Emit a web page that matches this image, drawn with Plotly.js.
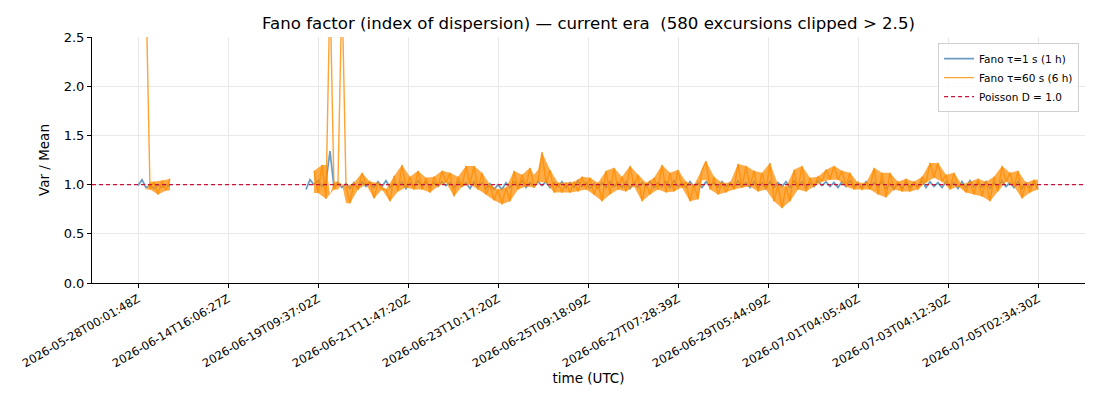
<!DOCTYPE html>
<html>
<head>
<meta charset="utf-8">
<script src="https://cdn.plot.ly/plotly-3.0.1.min.js"></script>
<style>
  html, body { margin: 0; padding: 0; background: #fff; }
  #chart { width: 1100px; height: 400px; }
</style>
</head>
<body>
<div id="chart"></div>
<script>
// sample index of each tick and its timestamp label
var tickSamples = [0, 22.5, 45, 67.5, 90, 112.5, 135, 157.5, 180, 202.5, 225];
var tickLabels = [
  '2026-05-28T00:01:48Z', '2026-06-14T16:06:27Z', '2026-06-19T09:37:02Z',
  '2026-06-21T11:47:20Z', '2026-06-23T10:17:20Z', '2026-06-25T09:18:09Z',
  '2026-06-27T07:28:39Z', '2026-06-29T05:44:09Z', '2026-07-01T04:05:40Z',
  '2026-07-03T04:12:30Z', '2026-07-05T02:34:30Z'
];

var poissonD = 1.0;
var clipMax = 2.5;

// first block of samples starts at index 0, second at 42
var seg1Start = 0;
var seg2Start = 42;

// Fano tau=1 s (1 h)
var fano1Seg1 = [0.99, 1.05, 0.97, 0.99, 0.96, 1.00, 0.97, 1.00, 0.98];
var fano1Seg2 = [
  0.95, 1.05, 1.00, 1.04, 0.98, 1.03, 1.34, 0.97, 1.02, 0.97,
  1.01, 0.96, 1.02, 0.96, 1.03, 0.98, 1.02, 0.97, 1.03, 0.98,
  1.04, 0.97, 1.02, 0.98, 1.03, 0.96, 1.02, 0.97, 1.04, 0.98,
  1.03, 0.97, 1.02, 0.98, 1.03, 0.99, 1.02, 0.97, 1.03, 0.98,
  1.02, 0.96, 1.03, 0.97, 1.02, 0.96, 1.01, 0.95, 1.00, 0.95,
  1.02, 0.97, 1.03, 0.98, 1.04, 0.97, 1.02, 0.98, 1.03, 0.99,
  1.03, 0.97, 1.02, 0.98, 1.03, 0.97, 1.02, 0.97, 1.04, 0.98,
  1.02, 0.96, 1.01, 0.96, 1.02, 0.97, 1.03, 0.98, 1.02, 0.97,
  1.03, 0.96, 1.02, 0.97, 1.02, 0.98, 1.03, 0.97, 1.02, 0.98,
  1.03, 0.97, 1.04, 0.98, 1.02, 0.97, 1.03, 0.98, 1.02, 0.97,
  1.03, 0.98, 1.02, 0.97, 1.03, 0.98, 1.02, 0.97, 1.04, 0.98,
  1.02, 0.97, 1.03, 0.96, 1.02, 0.96, 1.03, 0.97, 1.02, 0.98,
  1.03, 0.97, 1.04, 0.98, 1.03, 0.97, 1.02, 0.98, 1.04, 0.99,
  1.03, 0.98, 1.02, 0.97, 1.03, 0.98, 1.04, 0.98, 1.02, 0.97,
  1.03, 0.97, 1.02, 0.98, 1.03, 0.96, 1.01, 0.95, 1.02, 0.96,
  1.03, 0.97, 1.02, 0.98, 1.04, 0.97, 1.03, 0.98, 1.02, 0.97,
  1.03, 0.98, 1.02, 0.96, 1.03, 0.97, 1.04, 0.98, 1.02, 0.97,
  1.03, 0.96, 1.02, 0.97, 1.04, 0.98, 1.02, 0.97, 1.03, 0.96,
  1.02, 0.97, 1.03, 0.96
];

// Fano tau=60 s (6 h); values above 2.5 are the clipped excursions
var fano60Seg1 = [null, null, 3.0, 0.95, 1.03, 0.90, 1.04, 0.94, 1.06];
var fano60Seg2 = [
  null, null, 1.14, 0.915, 1.20, 0.855, 3.0, 0.95, 1.03, 3.0,
  0.98, 0.81, 1.02, 0.95, 1.12, 1.00, 1.03, 0.86, 1.02, 0.95,
  0.95, 0.83, 1.09, 0.93, 1.20, 0.97, 1.08, 0.95, 1.14, 0.95,
  1.07, 0.92, 1.08, 0.98, 1.14, 1.02, 1.12, 0.88, 1.08, 0.98,
  1.19, 1.00, 1.19, 0.95, 1.12, 0.90, 1.00, 0.84, 0.95, 0.80,
  0.97, 0.83, 1.14, 0.95, 1.10, 0.98, 1.17, 0.97, 1.03, 1.33,
  1.02, 1.15, 0.92, 1.02, 0.92, 1.02, 0.92, 1.03, 0.93, 1.08,
  0.95, 1.07, 0.90, 1.02, 0.83, 1.14, 0.90, 1.17, 0.95, 1.08,
  0.93, 1.19, 0.98, 1.10, 0.83, 1.02, 0.90, 1.07, 0.95, 1.20,
  0.92, 1.12, 0.93, 1.15, 0.97, 1.03, 0.83, 1.00, 0.85, 1.15,
  1.24, 0.95, 1.08, 0.90, 1.02, 0.92, 1.02, 0.95, 1.21, 0.97,
  1.19, 0.98, 1.14, 0.93, 1.12, 0.95, 1.22, 0.83, 1.00, 0.76,
  0.98, 0.83, 1.15, 0.95, 1.19, 0.93, 1.07, 0.98, 1.08, 1.03,
  1.15, 1.05, 1.19, 1.05, 1.14, 0.98, 1.12, 0.95, 1.02, 0.95,
  1.02, 0.95, 1.17, 0.90, 1.12, 0.87, 1.12, 0.95, 1.03, 0.93,
  1.06, 0.93, 1.03, 0.95, 1.08, 1.02, 1.22, 1.07, 1.22, 1.03,
  1.10, 0.95, 1.12, 0.98, 1.00, 0.92, 1.03, 0.90, 1.06, 0.88,
  1.03, 0.83, 1.08, 0.93, 1.19, 1.03, 1.12, 0.98, 1.14, 0.86,
  1.02, 0.92, 1.05, 0.95
];

var segs1 = [[seg1Start, fano1Seg1], [seg2Start, fano1Seg2]];
var segs60 = [[seg1Start, fano60Seg1], [seg2Start, fano60Seg2]];

function buildXY(segs) {
  var x = [], y = [];
  segs.forEach(function(s) {
    s[1].forEach(function(v, i) { x.push(s[0] + i); y.push(v); });
    // break the line across the gap with no data
    x.push(s[0] + s[1].length); y.push(null);
  });
  return {x: x, y: y};
}

// shade the area swept by the fast wiggles: between the line through the
// peaks and the line through the troughs (clipped excursions left out)
function buildBand(segs) {
  var x = [], y = [];
  function ok(a) { return a !== null && a !== undefined && a <= clipMax; }
  segs.forEach(function(s) {
    var vals = s[1], run = [];
    function flush() {
      if (run.length > 1) {
        run.forEach(function(p) { x.push(p.x); y.push(p.hi); });
        run.slice().reverse().forEach(function(p) { x.push(p.x); y.push(p.lo); });
        x.push(run[0].x); y.push(run[0].hi);
        x.push(null); y.push(null);
      }
      run = [];
    }
    vals.forEach(function(v, i) {
      if (v === null) { flush(); return; }
      var nb = [vals[i - 1], vals[i + 1]].filter(ok);
      var mid = nb.length ? nb.reduce(function(a, b) { return a + b; }, 0) / nb.length : v;
      var c = ok(v) ? v : mid;
      run.push({x: s[0] + i, hi: Math.max(c, mid), lo: Math.min(c, mid)});
    });
    flush();
  });
  return {x: x, y: y};
}

var d1 = buildXY(segs1);
var d60 = buildXY(segs60);
var b60 = buildBand(segs60);

var traces = [
  {
    x: d1.x, y: d1.y,
    name: 'Fano τ=1 s (1 h)',
    type: 'scatter', mode: 'lines',
    line: {color: 'rgba(70,130,180,0.8)', width: 1.7},
    connectgaps: false
  },
  {
    x: b60.x, y: b60.y, type: 'scatter', mode: 'lines',
    fill: 'toself', fillcolor: 'rgba(255,140,0,0.72)', line: {width: 0},
    legendgroup: 'f60', showlegend: false, hoverinfo: 'skip'
  },
  {
    x: d60.x, y: d60.y,
    name: 'Fano τ=60 s (6 h)', legendgroup: 'f60',
    type: 'scatter', mode: 'lines',
    line: {color: 'rgba(255,140,0,0.8)', width: 1.4},
    connectgaps: false
  }
];

var font = 'DejaVu Sans, sans-serif';

var layout = {
  width: 1100, height: 400,
  margin: {l: 92, r: 15, t: 37, b: 117},
  paper_bgcolor: '#fff', plot_bgcolor: '#fff',
  font: {family: font, color: '#000'},
  title: {
    text: 'Fano factor (index of dispersion) — current era  (580 excursions clipped > 2.5)',
    font: {size: 16.6, family: font}, x: 0.535, xanchor: 'center', y: 0.943, yanchor: 'middle'
  },
  xaxis: {
    range: [-11.5, 236.75],
    tickmode: 'array', tickvals: tickSamples, ticktext: tickLabels,
    tickangle: -30, tickfont: {size: 11.5},
    ticks: 'outside', ticklen: 4, tickcolor: '#000',
    showline: true, linecolor: '#000', linewidth: 1,
    showgrid: true, gridcolor: '#e3e3e3', gridwidth: 0.8,
    zeroline: false,
    title: {text: 'time (UTC)', font: {size: 13.5}, standoff: 4}
  },
  yaxis: {
    range: [0, 2.5],
    tickvals: [0, 0.5, 1.0, 1.5, 2.0, 2.5],
    tickformat: '.1f', tickfont: {size: 13},
    ticks: 'outside', ticklen: 4, tickcolor: '#000',
    showline: true, linecolor: '#000', linewidth: 1,
    showgrid: true, gridcolor: '#e3e3e3', gridwidth: 0.8,
    zeroline: false,
    title: {text: 'Var / Mean', font: {size: 13.5}, standoff: 10}
  },
  shapes: [{
    type: 'line', xref: 'paper', x0: 0, x1: 1, yref: 'y', y0: poissonD, y1: poissonD,
    line: {color: 'rgb(200,20,60)', width: 1.1, dash: '4px,3px'},
    showlegend: true, name: 'Poisson D = 1.0'
  }],
  legend: {
    x: 0.994, xanchor: 'right', y: 0.975, yanchor: 'top',
    bgcolor: 'rgba(255,255,255,0.8)', bordercolor: '#d0d0d0', borderwidth: 1,
    font: {size: 10.5, family: font}, tracegroupgap: 0
  },
  showlegend: true
};

Plotly.newPlot('chart', traces, layout, {displayModeBar: false, staticPlot: true});
</script>
</body>
</html>
